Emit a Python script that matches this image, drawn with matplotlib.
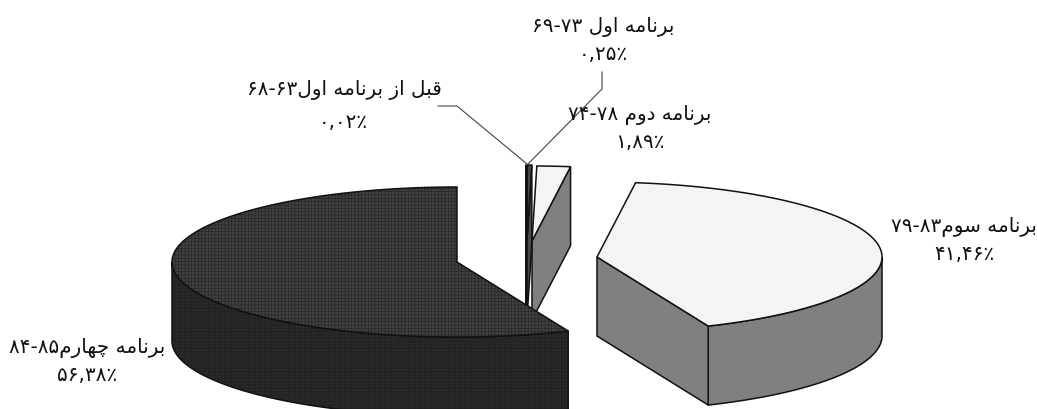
import re
import unicodedata
import numpy as np
import matplotlib
matplotlib.use('Agg')
import matplotlib.pyplot as plt

# share of each programme, in drawing order round the pie (counter clockwise from the top)
names = ['برنامه چهارم۸۵-۸۴', 'برنامه سوم۸۳-۷۹', 'برنامه دوم ۷۸-۷۴', 'برنامه اول ۷۳-۶۹', 'قبل از برنامه اول۶۳-۶۸']
shares = [56.38, 41.46, 1.89, 0.25, 0.02]

# exploded centres in pixels
centres = [(457, 263), (597, 258), (532, 242), (527, 241), (526, 241)]
label_pos = [(87, 348), (964, 227), (640, 115), (603, 27), (344, 90)]
pct_pos = [(87, 376), (964, 255), (640, 143), (603, 54), (343, 122)]
rx = 285
ry = 75
depth = 79

no_join_after = 'اآدذرزژو'


def shape(text):
    # matplotlib does no arabic shaping, so pick the joined forms by hand
    out = []
    for i, c in enumerate(text):
        if not unicodedata.name(c, '').startswith('ARABIC LETTER'):
            out.append(c)
            continue
        prev = text[i - 1] if i > 0 else ' '
        nxt = text[i + 1] if i < len(text) - 1 else ' '
        a = unicodedata.name(prev, '').startswith('ARABIC LETTER') and prev not in no_join_after
        b = unicodedata.name(nxt, '').startswith('ARABIC LETTER') and c not in no_join_after
        form = 'MEDIAL' if a and b else 'FINAL' if a else 'INITIAL' if b else 'ISOLATED'
        out.append(unicodedata.lookup(unicodedata.name(c) + ' ' + form + ' FORM'))
    s = ''.join(out)[::-1]
    return re.sub('[۰-۹]+', lambda m: m.group(0)[::-1], s)


def pct(v):
    s = f'{v:.2f}'.replace('.', ',')
    return s.translate(str.maketrans('0123456789', '۰۱۲۳۴۵۶۷۸۹')) + '٪'


def arc(cx, cy, a0, a1):
    t = np.radians(np.linspace(a0, a1, 200))
    return cx + rx * np.cos(t), cy - ry * np.sin(t)


plt.rcParams['hatch.linewidth'] = 0.3
fig = plt.figure(figsize=(10.37, 4.10), dpi=100)
ax = fig.add_axes([0, 0, 1, 1])
ax.set_xlim(0, 1037)
ax.set_ylim(410, 0)
ax.axis('off')

top_cols = ['#3f3f3f', '#f4f4f4', '#f4f4f4', '#4a4a4a', '#555555']
side_cols = ['#292929', '#808080', '#808080', '#4a4a4a', '#333333']
hatches = ['+++++', None, None, None, None]
edges = '#111111'

bounds = np.cumsum([0] + shares) / 100 * 360 + 90


def face(xs, ys, col, hatch, z):
    if hatch:
        ax.fill(xs, ys, facecolor=col, edgecolor='#1c1c1c', hatch=hatch, lw=0, zorder=z)
        ax.fill(xs, ys, facecolor='none', edgecolor=edges, lw=1.1, zorder=z + 0.1)
    else:
        ax.fill(xs, ys, facecolor=col, edgecolor=edges, lw=1.1, zorder=z)


# small slices sit behind the big dark one
zorders = [5, 5, 2, 3, 4]
for i in range(len(shares)):
    cx, cy = centres[i]
    a0, a1 = bounds[i], bounds[i + 1]
    z = zorders[i]

    # outer wall, only the part turned to the viewer
    lo = max(a0, 180)
    hi = min(a1, 360)
    if lo < hi:
        x, y = arc(cx, cy, lo, hi)
        face(np.r_[x, x[::-1]], np.r_[y, y[::-1] + depth], side_cols[i], hatches[i], z)

    # cut wall facing the viewer
    if i >= 1:
        x, y = arc(cx, cy, a0, a0)
        face([cx, x[0], x[0], cx], [cy, y[0], y[0] + depth, cy + depth], side_cols[i], None, z)

    x, y = arc(cx, cy, a0, a1)
    face(np.r_[cx, x], np.r_[cy, y], top_cols[i], hatches[i], z + 0.2)

for i in range(len(names)):
    ax.text(label_pos[i][0], label_pos[i][1], shape(names[i]), ha='center', va='center',
            fontsize=14.4, color='#111111', zorder=10)
    ax.text(pct_pos[i][0], pct_pos[i][1], pct(shares[i]), ha='center', va='center',
            fontsize=14.4, color='#111111', zorder=10)

# leader lines
ax.plot([602, 602, 528], [73, 90, 165], color='#444444', lw=0.8, zorder=6)
ax.plot([438, 457, 527], [107, 107, 165], color='#444444', lw=0.8, zorder=6)

fig.savefig('out.png', dpi=100)
